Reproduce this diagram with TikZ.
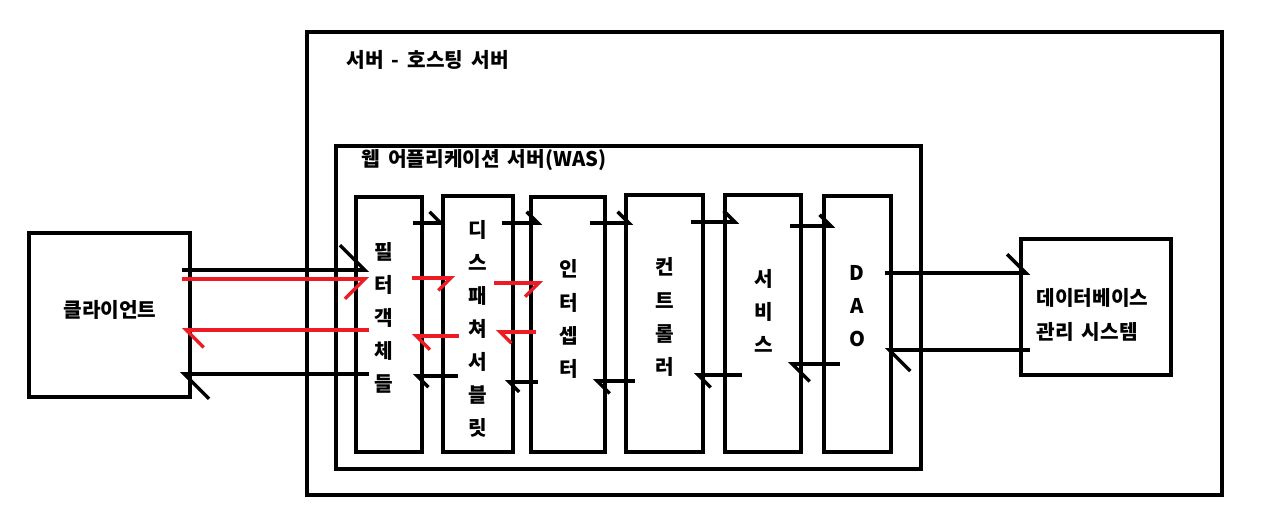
\documentclass[tikz,border=0pt]{standalone}
\usepackage{fontspec}
\setmainfont{Noto Sans CJK KR}
\usetikzlibrary{arrows.meta}
\definecolor{PaintRed}{RGB}{237,28,36}

\begin{document}
\begin{tikzpicture}[
    x=0.02cm, y=-0.02cm,
    line width=2pt,
    frame/.style = {draw, line width=2.1pt},
    label/.style = {font=\bfseries\fontsize{11.5}{13}\selectfont, inner sep=0pt},
    stack/.style = {font=\bfseries\fontsize{11.5}{18.8}\selectfont, align=center, inner sep=0pt},
    call/.style  = {draw=black, -{Straight Barb[harpoon, angle=90:#1]}},
    call/.default = 9pt,
    req/.style   = {draw=PaintRed, -{Straight Barb[harpoon, swap, angle=90:#1]}},
    req/.default = 10pt,
    res/.style   = {draw=PaintRed, -{Straight Barb[harpoon, angle=90:#1]}},
    res/.default = 10pt,
  ]
% canvas
\fill[white] (0,0) rectangle (1276,523);
\useasboundingbox (0,0) rectangle (1276,523);

% boxes
\draw[frame] (29,233) rectangle (190,397);
\draw[frame, line width=2.5pt] (307,32) rectangle (1222,495);
\draw[frame] (336,146) rectangle (921,469);
\draw[frame] (356,197) rectangle (422,452);
\draw[frame] (443,196) rectangle (513,452);
\draw[frame] (531,197) rectangle (605,452);
\draw[frame] (626,195) rectangle (703,452);
\draw[frame] (725,195) rectangle (801,452);
\draw[frame] (824,196) rectangle (891,452);
\draw[frame] (1021,239) rectangle (1171,375);

% texts
\node[label] (client) at (110,310) {클라이언트};
\node[label, anchor=west] (host) at (345,60) {서버 \,-\, 호스팅 \,서버};
\node[label, anchor=west] (was) at (360,160) {웹 \,어플리케이션 \,서버(WAS)};
\node[stack] (filter) at (384,318) {필\\터\\객\\체\\들};
\node[stack] (dispatcher) at (478,329) {디\\스\\패\\쳐\\서\\블\\릿};
\node[stack] (interceptor) at (569,319) {인\\터\\셉\\터};
\node[stack] (controller) at (665,317) {컨\\트\\롤\\러};
\node[stack] (service) at (764,311) {서\\비\\스};
\node[stack] (dao) at (857,306) {D\\A\\O};
\node[label, align=left, anchor=west, font=\bfseries\fontsize{11.5}{19.3}\selectfont]
    (dbms) at (1035,315) {데이터베이스\\관리 \,시스템};

% defining coordinates
% request (top)
\coordinate (A1) at (182,270);  \coordinate (A1e) at (369,270);
\coordinate (A2) at (413,223);  \coordinate (A2e) at (445,223);
\coordinate (A3) at (502,223);  \coordinate (A3e) at (542,223);
\coordinate (A4) at (590,223);  \coordinate (A4e) at (633,223);
\coordinate (A5) at (691,222);  \coordinate (A5e) at (739,222);
\coordinate (A6) at (790,226);  \coordinate (A6e) at (835,226);
\coordinate (A7) at (885,273);  \coordinate (A7e) at (1030,273);

% response (bottom)
\coordinate (B1) at (1030,350); \coordinate (B1e) at (885,350);
\coordinate (B2) at (840,364);  \coordinate (B2e) at (788,364);
\coordinate (B3) at (742,375);  \coordinate (B3e) at (694,375);
\coordinate (B4) at (635,381);  \coordinate (B4e) at (593,381);
\coordinate (B5) at (538,382);  \coordinate (B5e) at (505,382);
\coordinate (B6) at (458,376);  \coordinate (B6e) at (413,376);
\coordinate (B7) at (369,374);  \coordinate (B7e) at (180,374);

% red pass
\coordinate (R1) at (182,279);  \coordinate (R1e) at (369,279);
\coordinate (R2) at (412,278);  \coordinate (R2e) at (455,278);
\coordinate (R3) at (494,283);  \coordinate (R3e) at (543,283);
\coordinate (R4) at (536,332);  \coordinate (R4e) at (496,332);
\coordinate (R5) at (459,336);  \coordinate (R5e) at (412,336);
\coordinate (R6) at (369,330);  \coordinate (R6e) at (182,330);

% black arrows
\draw[call=20pt] (A1) -- (A1e);
\foreach \i in {2,...,6}
    \draw[call] (A\i) -- (A\i e);
\draw[call=15pt] (A7) -- (A7e);

\draw[call=17pt] (B1) -- (B1e);
\draw[call=14pt] (B2) -- (B2e);
\draw[call=10pt] (B3) -- (B3e);
\draw[call=10pt] (B4) -- (B4e);
\draw[call=8pt] (B5) -- (B5e);
\draw[call] (B6) -- (B6e);
\draw[call=20pt] (B7) -- (B7e);

% red arrows
\draw[req=16pt] (R1) -- (R1e);
\draw[req] (R2) -- (R2e);
\draw[req=11pt] (R3) -- (R3e);
\draw[res=9pt] (R4) -- (R4e);
\draw[res=11pt] (R5) -- (R5e);
\draw[res=14pt] (R6) -- (R6e);

\end{tikzpicture}
\end{document}
